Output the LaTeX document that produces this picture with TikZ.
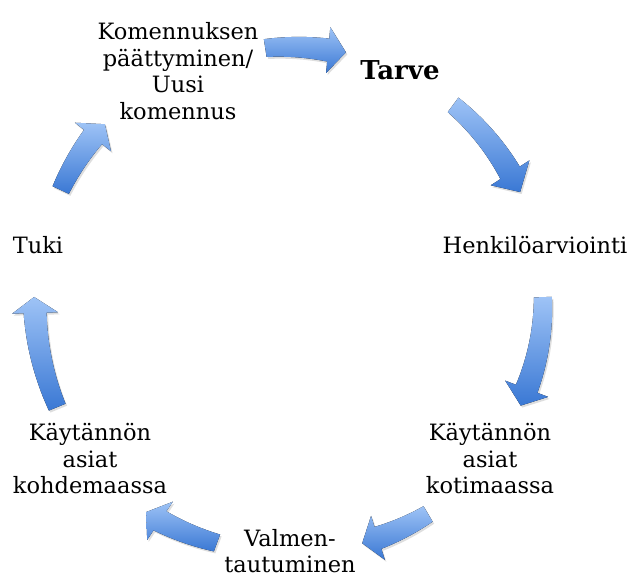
\documentclass[tikz,border=0pt]{standalone}
\usepackage{fontspec}
\setmainfont{DejaVu Serif}
\usetikzlibrary{calc}
\definecolor{arrlight}{RGB}{158,195,246}
\definecolor{arrdark}{RGB}{58,120,212}
\tikzset{
  lbl/.style={align=center, inner sep=0pt, font=\fontsize{22.5}{26.5}\selectfont},
  arrowshade/.style={top color=arrlight, bottom color=arrdark, draw=none},
  arrowshadow/.style={fill=black, opacity=0.13, draw=none}
}
% tail angle, base angle, tip angle, tail radius, base radius, tip radius (centre 305,305)
\newcommand{\cyclearrow}[6]{%
  \pgfmathsetmacro\aA{#1}\pgfmathsetmacro\aB{#2}\pgfmathsetmacro\aC{#3}%
  \pgfmathsetmacro\rA{#4}\pgfmathsetmacro\rB{#5}\pgfmathsetmacro\rC{#6}%
  \def\arrowpath{plot[domain=\aA:\aB, samples=24, variable=\t]
      ({305+(\rA+(\rB-\rA)*(\t-\aA)/(\aB-\aA)+9+2.5*(\t-\aA)/(\aB-\aA))*cos(\t)},
       {305+(\rA+(\rB-\rA)*(\t-\aA)/(\aB-\aA)+9+2.5*(\t-\aA)/(\aB-\aA))*sin(\t)})
    -- ({305+(\rB+23)*cos(\aB)},{305+(\rB+23)*sin(\aB)})
    -- ({305+\rC*cos(\aC)},{305+\rC*sin(\aC)})
    -- ({305+(\rB-23)*cos(\aB)},{305+(\rB-23)*sin(\aB)})
    -- plot[domain=\aB:\aA, samples=24, variable=\t]
      ({305+(\rA+(\rB-\rA)*(\t-\aA)/(\aB-\aA)-9-2.5*(\t-\aA)/(\aB-\aA))*cos(\t)},
       {305+(\rA+(\rB-\rA)*(\t-\aA)/(\aB-\aA)-9-2.5*(\t-\aA)/(\aB-\aA))*sin(\t)})
    -- cycle}%
  \fill[arrowshadow, xshift=1.5pt, yshift=-2pt] \arrowpath;
  \fill[arrowshade] \arrowpath;
}
\begin{document}
\begin{tikzpicture}[x=1pt, y=-1pt]
  \useasboundingbox (0,0) rectangle (635,579);
  % labels
  \node[lbl] (kom) at (178,71) {Komennuksen\\päättyminen/\\Uusi\\komennus};
  \node[lbl, font=\fontsize{26}{30}\selectfont\bfseries] (tarve) at (400,70) {Tarve};
  \node[lbl] (henk) at (535,245) {Henkilöarviointi};
  \node[lbl] (kot) at (490,459) {Käytännön\\asiat\\kotimaassa};
  \node[lbl] (valm) at (290,551) {Valmen-\\tautuminen};
  \node[lbl] (kohd) at (90,459) {Käytännön\\asiat\\kohdemaassa};
  \node[lbl] (tuki) at (38,245) {Tuki};
  % arrows
  \cyclearrow{-98.8}{-84.8}{-80.8}{260}{256}{256}
  \cyclearrow{-53.5}{-32.8}{-27.7}{249}{244}{243}
  \cyclearrow{-1.9}{20.7}{25.0}{238}{237}{238}
  \cyclearrow{59.5}{72.6}{76.5}{242.5}{244}{245}
  \cyclearrow{110.3}{123.9}{127.5}{253.7}{260}{261}
  \cyclearrow{157.6}{178.3}{181.7}{268}{270}{271}
  \cyclearrow{205.2}{218.4}{222.1}{270}{270.5}{269.7}
\end{tikzpicture}
\end{document}
